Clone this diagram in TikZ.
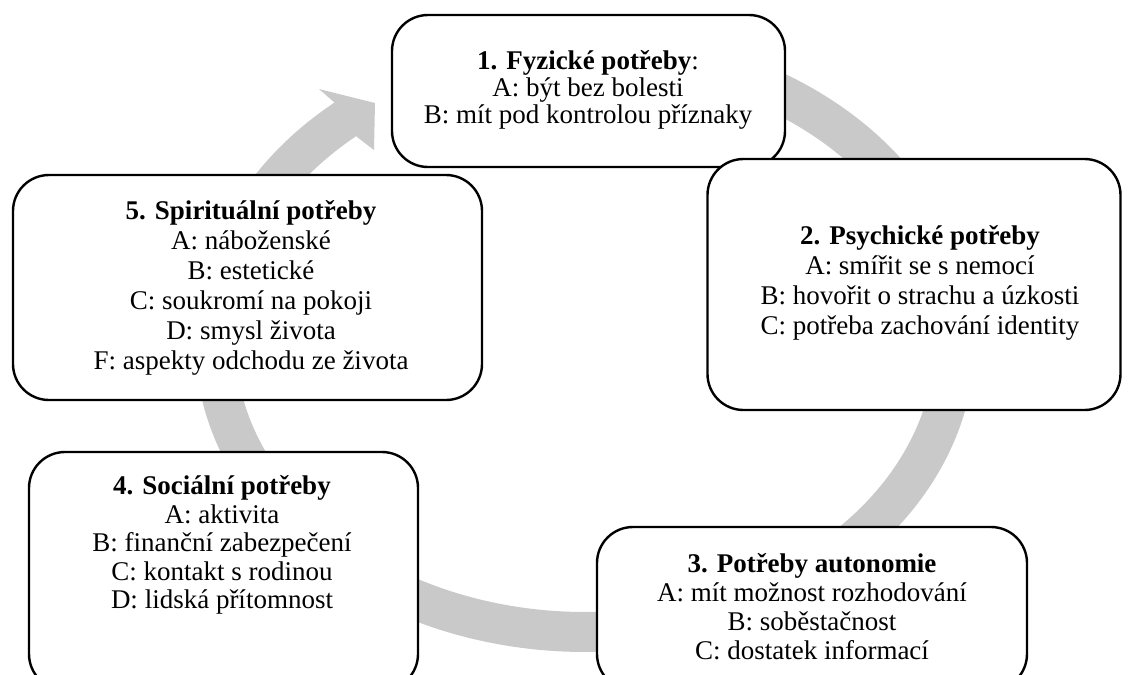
\documentclass[tikz,border=0pt]{standalone}
\usepackage{fontspec}
\setmainfont{Liberation Serif}
\definecolor{ringGray}{RGB}{201,201,201}

\begin{document}
\begin{tikzpicture}[x = 1pt, y = -1pt]
	\tikzstyle{boxStyle} = [draw, fill = white, line width = 2.4pt, rounded corners = 36pt, inner sep = 0pt]
	\tikzstyle{textStyle} = [align = center, inner sep = 0pt, font = \fontsize{27}{29}\selectfont]
	\tikzstyle{ringStyle} = [draw = ringGray, line width = 40pt]
	\clip (0,0) rectangle (1136,675);
	\draw[ringStyle] plot[smooth, domain = 130.2:440, samples = 120] ({585+370*cos(\x)}, {341-291*sin(\x)});
	\fill[ringGray] (335,103) -- (319,89) -- (375,103) -- (374,150) -- (357,137) -- cycle;
	\node[boxStyle, minimum width = 393, minimum height = 152] (b1) at (588.5,91) {};
	\node[boxStyle, minimum width = 413, minimum height = 251] (b2) at (914,284.5) {};
	\node[boxStyle, minimum width = 430, minimum height = 163] (b3) at (812,608.5) {};
	\node[boxStyle, minimum width = 389, minimum height = 238] (b4) at (223.5,571) {};
	\node[boxStyle, minimum width = 469, minimum height = 225] (b5) at (247.5,287.5) {};
	\node[textStyle, font = \fontsize{27}{27}\selectfont] (t1) at (588,90) {\textbf{1. Fyzické potřeby}:\\A: být bez bolesti\\B: mít pod kontrolou příznaky};
	\node[textStyle, font = \fontsize{27}{30}\selectfont] (t2) at (920,283) {\textbf{2. Psychické potřeby}\\A: smířit se s nemocí\\B: hovořit o strachu a úzkosti\\C: potřeba zachování identity};
	\node[textStyle] (t3) at (812,607) {\textbf{3. Potřeby autonomie}\\A: mít možnost rozhodování\\B: soběstačnost\\C: dostatek informací};
	\node[textStyle, font = \fontsize{27}{28.5}\selectfont] (t4) at (222,545) {\textbf{4. Sociální potřeby}\\A: aktivita\\B: finanční zabezpečení\\C: kontakt s rodinou\\D: lidská přítomnost};
	\node[textStyle, font = \fontsize{27}{30}\selectfont] (t5) at (251,288) {\textbf{5. Spirituální potřeby}\\A: náboženské\\B: estetické\\C: soukromí na pokoji\\D: smysl života\\F: aspekty odchodu ze života};
\end{tikzpicture}
\end{document}
